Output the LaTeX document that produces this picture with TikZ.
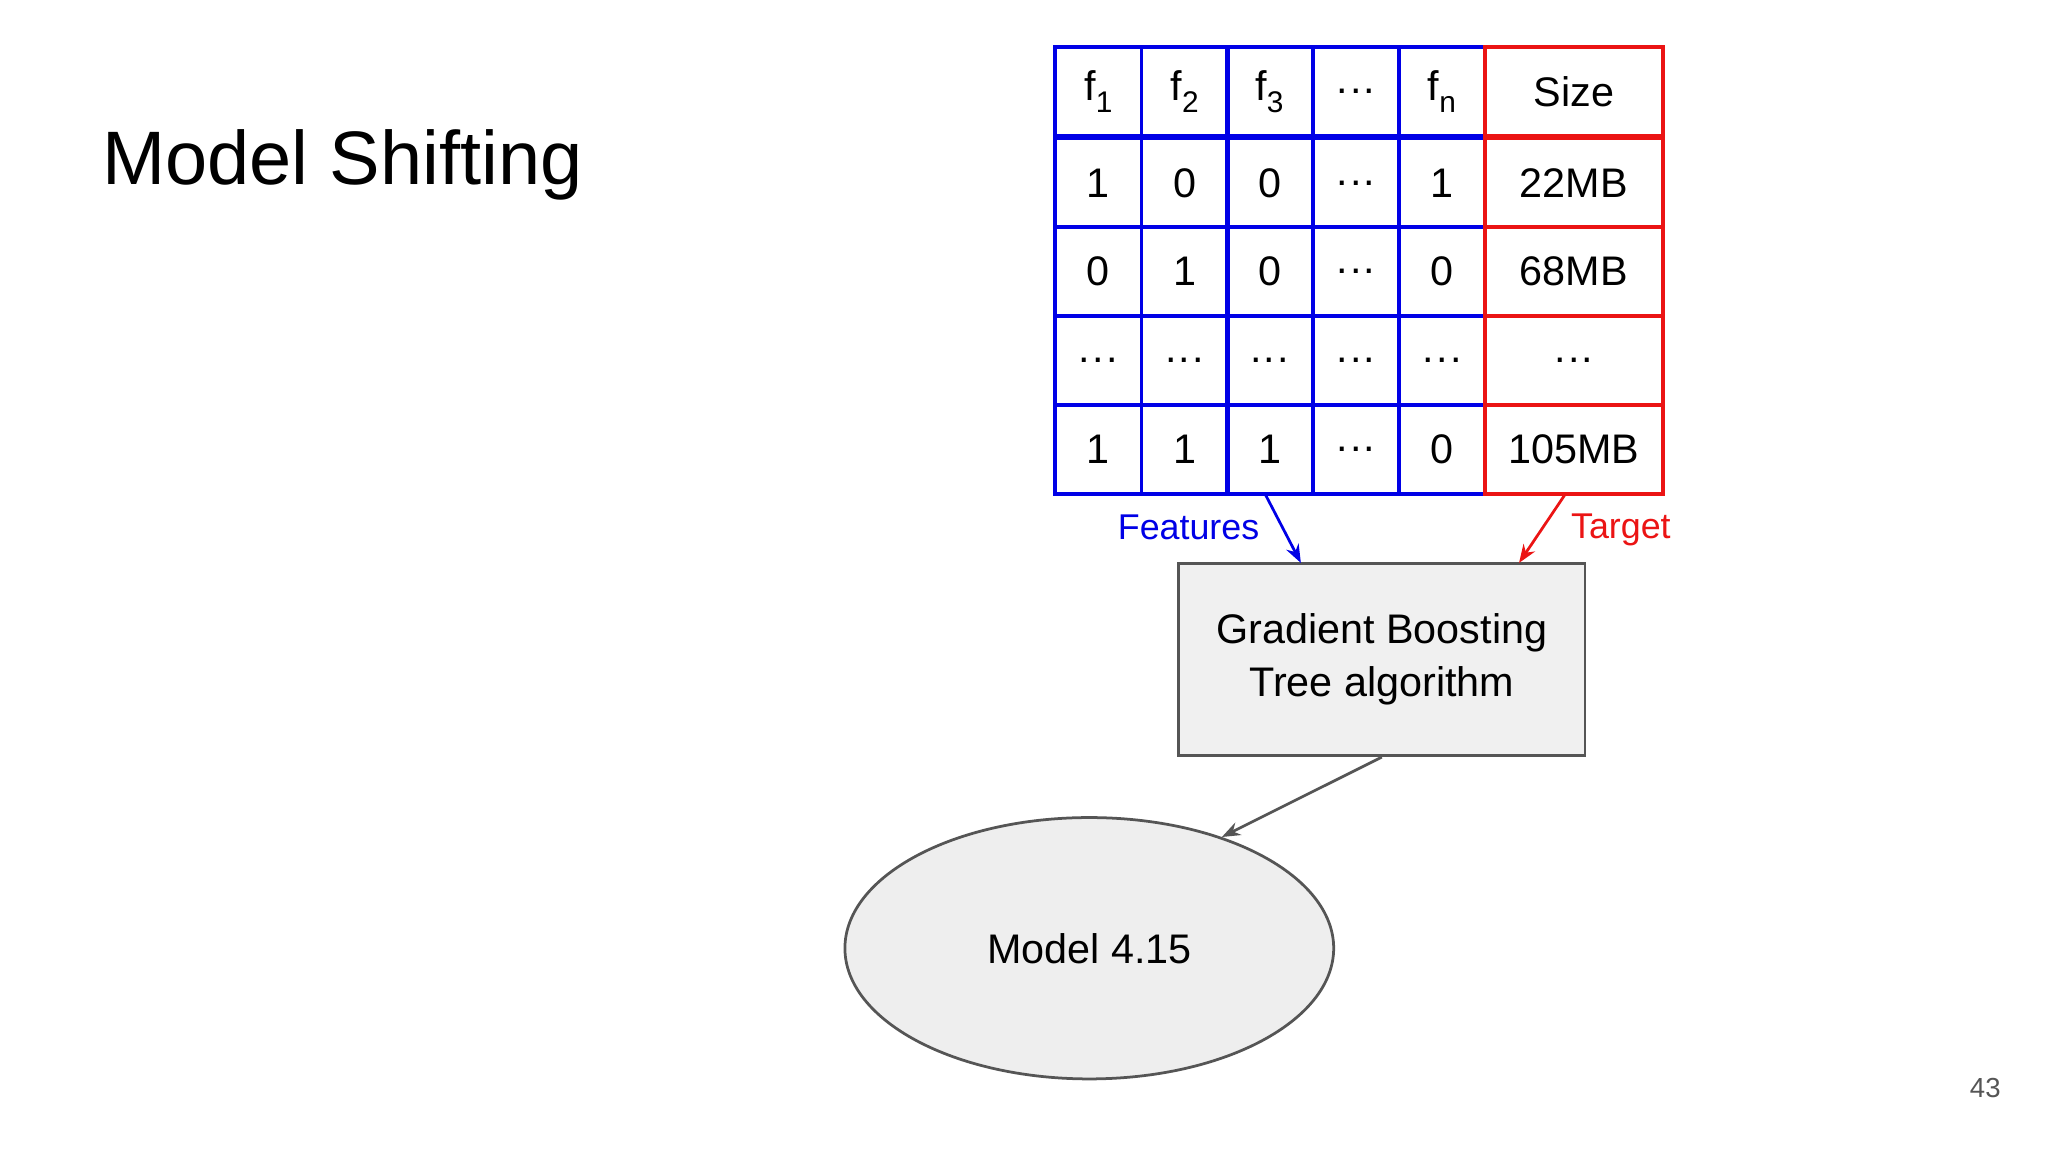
\documentclass[tikz,border=0pt]{standalone}
\usepackage{fontspec}
\setmainfont{Liberation Sans}
\usetikzlibrary{shapes.geometric,arrows.meta}
\definecolor{bl}{RGB}{0,0,230}
\definecolor{rd}{RGB}{235,20,20}
\definecolor{gr}{RGB}{85,85,85}
\newcommand{\subf}[1]{\raisebox{-0.55ex}{\fontsize{6.5pt}{7pt}\selectfont #1}}
\newcommand{\dd}{.\kern0.5pt.\kern0.5pt.}
\begin{document}
\begin{tikzpicture}[x=0.01cm,y=-0.01cm,
  fcell/.style={draw=bl,line width=0.8pt,minimum width=0.66cm,minimum height=0.68cm,inner sep=0,font=\fontsize{9pt}{10pt}\selectfont},
  tcell/.style={draw=rd,line width=0.8pt,minimum width=1.36cm,minimum height=0.68cm,inner sep=0,font=\fontsize{9pt}{10pt}\selectfont},
  arr/.style={-{Stealth[length=4pt,width=3pt]},line width=0.6pt}]
\useasboundingbox (0,0) rectangle (1568,882);
\node[anchor=west,font=\fontsize{16.5pt}{18pt}\selectfont] (title) at (66,126) {Model Shifting};
\foreach \r/\yy/\a/\b/\c/\d/\e/\s in {
  0/70/f\subf{1}/f\subf{2}/f\subf{3}/\dd/f\subf{n}/Size,
  1/140/1/0/0/\dd/1/22MB,
  2/208/0/1/0/\dd/0/68MB,
  3/276/\dd/\dd/\dd/\dd/\dd/\dd,
  4/344/1/1/1/\dd/0/105MB}{
  \node[fcell] (c\r-1) at (841,\yy) {\a};
  \node[fcell] (c\r-2) at (907,\yy) {\b};
  \node[fcell] (c\r-3) at (972,\yy) {\c};
  \node[fcell] (c\r-4) at (1038,\yy) {\d};
  \node[fcell] (c\r-5) at (1104,\yy) {\e};
  \node[tcell] (c\r-6) at (1205,\yy) {\s};
}
\node[draw=gr,fill=gray!12,line width=0.6pt,minimum width=3.11cm,minimum height=1.47cm,align=center,font=\fontsize{9pt}{11.5pt}\selectfont] (gbt) at (1058,505) {Gradient Boosting\\Tree algorithm};
\node[ellipse,draw=gr,fill=gray!13,line width=0.6pt,minimum width=3.74cm,minimum height=2.0cm,font=\fontsize{9pt}{10pt}\selectfont] (model) at (834,726) {Model 4.15};
\coordinate (fs) at (969,379);
\coordinate (fe) at (996,431);
\coordinate (ts) at (1198,379);
\coordinate (te) at (1163,431);
\draw[arr,bl] (fs) -- (fe);
\draw[arr,rd] (ts) -- (te);
\draw[arr,gr] (gbt.south) -- (model.40);
\node[bl,font=\fontsize{7.8pt}{9pt}\selectfont] (flab) at (910,404) {Features};
\node[rd,font=\fontsize{7.8pt}{9pt}\selectfont] (tlab) at (1241,406) {Target};
\node[gr,font=\fontsize{6pt}{7pt}\selectfont] (pg) at (1520,833) {43};
\end{tikzpicture}
\end{document}
